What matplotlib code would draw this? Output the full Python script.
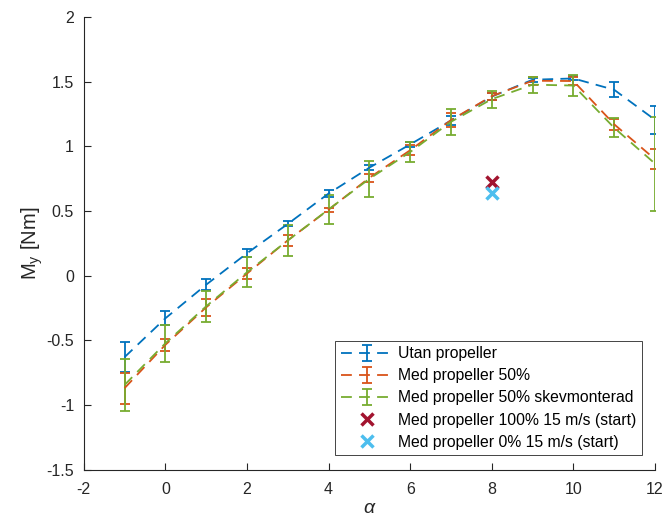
import numpy as np
import matplotlib
matplotlib.use("Agg")
import matplotlib.pyplot as plt
from matplotlib.ticker import FormatStrFormatter

plt.rcParams['font.family'] = ['Liberation Sans', 'DejaVu Sans']
plt.rcParams['mathtext.fontset'] = 'custom'
plt.rcParams['mathtext.rm'] = 'Liberation Sans'
plt.rcParams['mathtext.it'] = 'Liberation Sans:italic'
plt.rcParams['axes.unicode_minus'] = False

# angle of attack
alpha = [-1, 0, 1, 2, 3, 4, 5, 6, 7, 8, 9, 10, 11, 12]

# Utan propeller
utan = [-0.63, -0.33, -0.07, 0.173, 0.40, 0.635, 0.835, 1.015, 1.20, 1.385, 1.515, 1.525, 1.437, 1.205]
utan_err = [0.117, 0.055, 0.042, 0.031, 0.02, 0.028, 0.02, 0.02, 0.036, 0.025, 0.015, 0.015, 0.057, 0.11]

# Med propeller 50%
med50 = [-0.87, -0.535, -0.245, 0.016, 0.273, 0.51, 0.757, 0.97, 1.203, 1.388, 1.507, 1.505, 1.17, 0.90]
med50_err = [0.12, 0.045, 0.065, 0.042, 0.042, 0.016, 0.03, 0.04, 0.053, 0.028, 0.032, 0.03, 0.04, 0.077]

# Med propeller 50% skevmonterad
skev = [-0.845, -0.523, -0.237, 0.026, 0.272, 0.512, 0.749, 0.956, 1.19, 1.365, 1.477, 1.47, 1.143, 0.866]
skev_err = [0.2, 0.142, 0.119, 0.116, 0.12, 0.113, 0.138, 0.075, 0.1, 0.065, 0.062, 0.08, 0.073, 0.364]

# single start points
start_alpha = [8]
start_100 = [0.727]
start_0 = [0.637]

series = [
    (utan, utan_err, '#0072BD', 'Utan propeller'),
    (med50, med50_err, '#D95319', 'Med propeller 50%'),
    (skev, skev_err, '#77AC30', 'Med propeller 50% skevmonterad'),
]

fig = plt.figure(figsize=(6.65, 5.22), dpi=100)
ax = fig.add_axes([0.126, 0.1004, 0.859, 0.867])

handles = []
for y, e, c, lab in series:
    eb = ax.errorbar(alpha, y, yerr=e, color=c, linestyle='--', dashes=(6, 4),
                     linewidth=1.3, elinewidth=1.3, capsize=3.8, capthick=1.3,
                     label=lab)
    handles.append(eb)

h, = ax.plot(start_alpha, start_100, 'x', color='#A2142F', markersize=8,
             markeredgewidth=2.5, label='Med propeller 100% 15 m/s (start)')
handles.append(h)
h, = ax.plot(start_alpha, start_0, 'x', color='#4DBEEE', markersize=8,
             markeredgewidth=2.5, label='Med propeller 0% 15 m/s (start)')
handles.append(h)

ax.set_xlim(-2, 12)
ax.set_ylim(-1.5, 2)
ax.set_xticks(np.arange(-2, 13, 2))
ax.set_yticks(np.arange(-1.5, 2.01, 0.5))
ax.yaxis.set_major_formatter(FormatStrFormatter('%g'))

for s in ['top', 'right']:
    ax.spines[s].set_visible(False)
for s in ['left', 'bottom']:
    ax.spines[s].set_color('#262626')
    ax.spines[s].set_linewidth(0.8)
ax.tick_params(direction='in', length=5, width=0.8, colors='#262626',
               labelsize=11.5, labelcolor='#262626')
ax.tick_params(axis='x', pad=9)
ax.tick_params(axis='y', pad=7)

ax.set_xlabel(r'$\alpha$', fontsize=14, color='#262626', labelpad=2)
ax.set_ylabel(r'M$_\mathregular{y}$ [Nm]', fontsize=14.5, color='#262626', labelpad=1)

leg = ax.legend(handles=handles, loc='lower right', bbox_to_anchor=(0.977, 0.032),
                borderaxespad=0, fontsize=11.3, fancybox=False,
                edgecolor='#262626', framealpha=1, handlelength=3.3,
                handletextpad=0.35, labelspacing=0.45, borderpad=0.35)
leg.get_frame().set_linewidth(0.6)

fig.savefig('out.png', dpi=100)
